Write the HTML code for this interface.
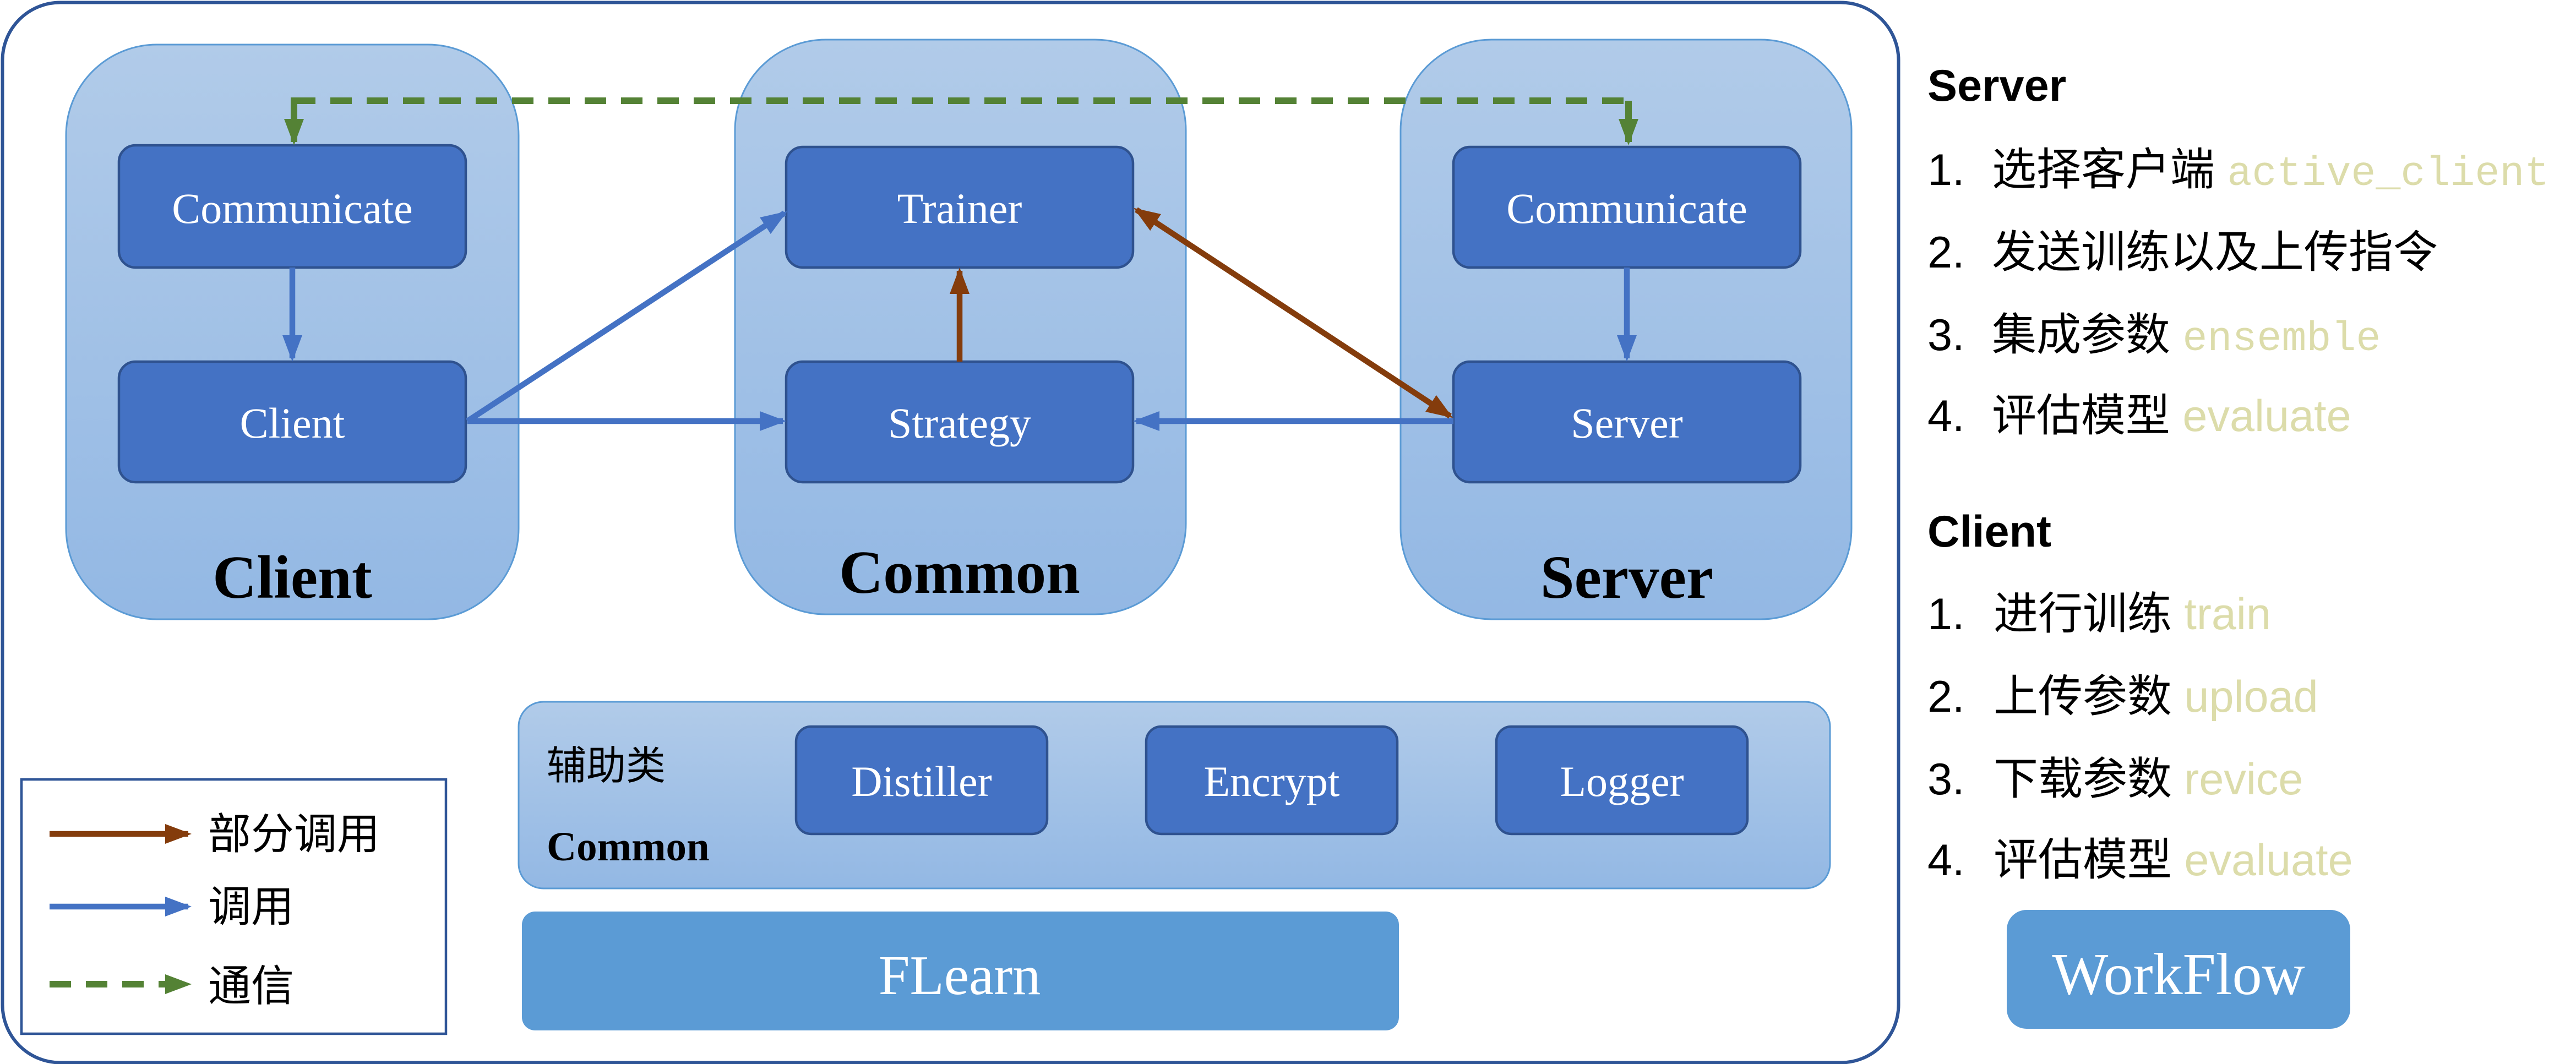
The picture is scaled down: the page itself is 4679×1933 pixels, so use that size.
<!DOCTYPE html>
<html><head><meta charset="utf-8"><style>html,body{margin:0;padding:0;background:#fff}svg{display:block}</style></head><body>
<svg width="4679" height="1933" viewBox="0 0 1559.67 644.33" xmlns="http://www.w3.org/2000/svg">
<defs>
<linearGradient id="g" x1="0" y1="0" x2="0" y2="1"><stop offset="0" stop-color="#b1cbe9"/><stop offset="1" stop-color="#93b8e4"/></linearGradient>
<marker id="ab" markerWidth="16" markerHeight="12" refX="14" refY="6" orient="auto" markerUnits="userSpaceOnUse"><path d="M0,0 L16,6 L0,12 Z" fill="#4472c4"/></marker>
<marker id="ar" markerWidth="16" markerHeight="12" refX="14" refY="6" orient="auto-start-reverse" markerUnits="userSpaceOnUse"><path d="M0,0 L16,6 L0,12 Z" fill="#843c0c"/></marker>
<marker id="ag" markerWidth="16" markerHeight="12" refX="14" refY="6" orient="auto" markerUnits="userSpaceOnUse"><path d="M0,0 L16,6 L0,12 Z" fill="#548235"/></marker>
</defs>
<rect x="1.5" y="1.5" width="1148" height="642" rx="35" fill="#fff" stroke="#2f5597" stroke-width="2"/>
<rect x="40" y="27" width="274" height="348" rx="55" fill="url(#g)" stroke="#5b9bd5" stroke-width="1"/>
<rect x="445" y="24" width="273" height="348" rx="55" fill="url(#g)" stroke="#5b9bd5" stroke-width="1"/>
<rect x="848" y="24" width="273" height="351" rx="55" fill="url(#g)" stroke="#5b9bd5" stroke-width="1"/>
<g fill="#4472c4" stroke="#2f528f" stroke-width="1.5">
<rect x="72" y="88" width="210" height="74" rx="10"/>
<rect x="72" y="219" width="210" height="73" rx="10"/>
<rect x="476" y="89" width="210" height="73" rx="10"/>
<rect x="476" y="219" width="210" height="73" rx="10"/>
<rect x="880" y="89" width="210" height="73" rx="10"/>
<rect x="880" y="219" width="210" height="73" rx="10"/>
</g>
<g font-family="Liberation Serif, serif" font-size="26" fill="#fff" text-anchor="middle">
<text x="177" y="135">Communicate</text>
<text x="177" y="265">Client</text>
<text x="581" y="135">Trainer</text>
<text x="581" y="265">Strategy</text>
<text x="985" y="135">Communicate</text>
<text x="985" y="265">Server</text>
</g>
<g font-family="Liberation Serif, serif" font-size="37" font-weight="bold" fill="#000" text-anchor="middle">
<text x="177" y="362">Client</text>
<text x="581" y="359">Common</text>
<text x="985" y="362">Server</text>
</g>
<g stroke="#4472c4" stroke-width="3.5" fill="none">
<line x1="177" y1="162" x2="177" y2="217" marker-end="url(#ab)"/>
<line x1="985" y1="162" x2="985" y2="217" marker-end="url(#ab)"/>
<line x1="283" y1="255" x2="475" y2="129" marker-end="url(#ab)"/>
<line x1="283" y1="255" x2="474" y2="255" marker-end="url(#ab)"/>
<line x1="880" y1="255" x2="688" y2="255" marker-end="url(#ab)"/>
</g>
<g stroke="#843c0c" stroke-width="3.5" fill="none">
<line x1="581" y1="219" x2="581" y2="164" marker-end="url(#ar)"/>
<line x1="878" y1="252" x2="688" y2="127" marker-start="url(#ar)" marker-end="url(#ar)"/>
</g>
<g stroke="#548235" stroke-width="4" fill="none">
<line x1="178" y1="61" x2="990" y2="61" stroke-dasharray="13 9"/>
<line x1="178" y1="59" x2="178" y2="86" marker-end="url(#ag)"/>
<line x1="986" y1="61" x2="986" y2="86" marker-end="url(#ag)"/>
</g>
<rect x="314" y="425" width="794" height="113" rx="15" fill="url(#g)" stroke="#5b9bd5" stroke-width="1"/>
<text x="331" y="472" font-family="Liberation Sans, Noto Sans CJK SC, sans-serif" font-size="24" fill="#000">辅助类</text>
<text x="331" y="521" font-family="Liberation Serif, serif" font-size="25" font-weight="bold" fill="#000">Common</text>
<g fill="#4472c4" stroke="#2f528f" stroke-width="1.5">
<rect x="482" y="440" width="152" height="65" rx="9"/>
<rect x="694" y="440" width="152" height="65" rx="9"/>
<rect x="906" y="440" width="152" height="65" rx="9"/>
</g>
<g font-family="Liberation Serif, serif" font-size="26" fill="#fff" text-anchor="middle">
<text x="558" y="482">Distiller</text>
<text x="770" y="482">Encrypt</text>
<text x="982" y="482">Logger</text>
</g>
<rect x="316" y="552" width="531" height="72" rx="8" fill="#5b9bd5"/>
<text x="581" y="602" font-family="Liberation Serif, serif" font-size="34" fill="#fff" text-anchor="middle">FLearn</text>
<rect x="13" y="472" width="257" height="154" fill="#fff" stroke="#2f5597" stroke-width="1.5"/>
<line x1="30" y1="505" x2="114" y2="505" stroke="#843c0c" stroke-width="3.5" marker-end="url(#ar)"/>
<line x1="30" y1="549" x2="114" y2="549" stroke="#4472c4" stroke-width="3.5" marker-end="url(#ab)"/>
<line x1="30" y1="596" x2="114" y2="596" stroke="#548235" stroke-width="4" stroke-dasharray="13 9" marker-end="url(#ag)"/>
<g font-family="Liberation Sans, Noto Sans CJK SC, sans-serif" font-size="26" fill="#000">
<text x="126" y="514">部分调用</text>
<text x="126" y="558">调用</text>
<text x="126" y="606">通信</text>
</g>
<g font-family="Liberation Sans, Noto Sans CJK SC, sans-serif" fill="#000">
<text x="1167" y="61" font-size="27" font-weight="bold">Server</text>
<g font-size="27">
<text x="1167" y="112">1.</text><text x="1206" y="112">选择客户端 <tspan fill="#dcdcaa" font-family="Liberation Mono, monospace" font-size="25">active_client</tspan></text>
<text x="1167" y="162">2.</text><text x="1206" y="162">发送训练以及上传指令</text>
<text x="1167" y="212">3.</text><text x="1206" y="212">集成参数 <tspan fill="#dcdcaa" font-family="Liberation Mono, monospace" font-size="25">ensemble</tspan></text>
<text x="1167" y="261">4.</text><text x="1206" y="261">评估模型 <tspan fill="#dcdcaa">evaluate</tspan></text>
</g>
<text x="1167" y="331" font-size="27" font-weight="bold">Client</text>
<g font-size="27">
<text x="1167" y="381">1.</text><text x="1207" y="381">进行训练 <tspan fill="#dcdcaa">train</tspan></text>
<text x="1167" y="431">2.</text><text x="1207" y="431">上传参数 <tspan fill="#dcdcaa">upload</tspan></text>
<text x="1167" y="481">3.</text><text x="1207" y="481">下载参数 <tspan fill="#dcdcaa">revice</tspan></text>
<text x="1167" y="530">4.</text><text x="1207" y="530">评估模型 <tspan fill="#dcdcaa">evaluate</tspan></text>
</g>
</g>
<rect x="1215" y="551" width="208" height="72" rx="12" fill="#5b9bd5"/>
<text x="1319" y="602" font-family="Liberation Serif, serif" font-size="36" fill="#fff" text-anchor="middle">WorkFlow</text>
</svg>
</body></html>
